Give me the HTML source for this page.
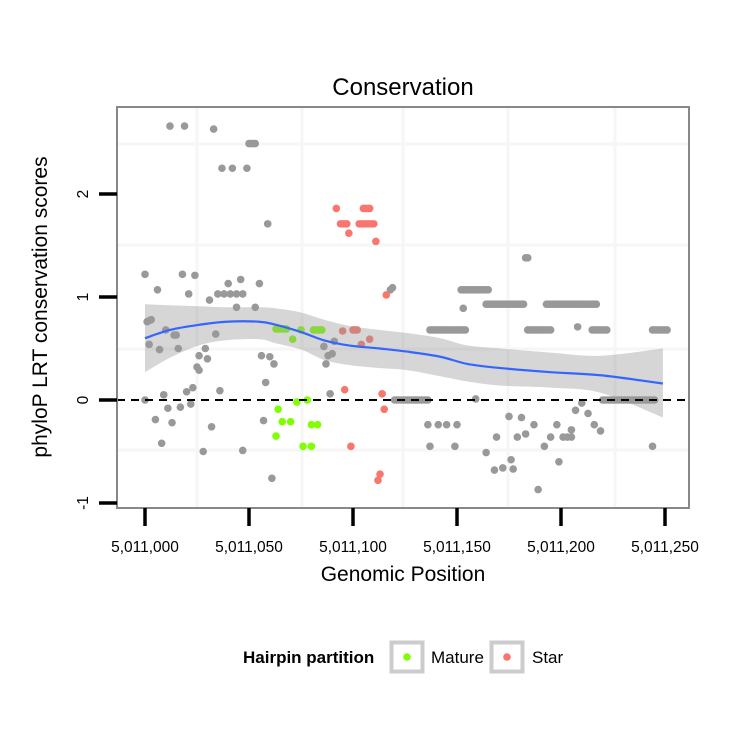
<!DOCTYPE html>
<html><head><meta charset="utf-8"><style>
body{margin:0;background:#fff;}
svg text{font-family:"Liberation Sans",sans-serif;}
</style></head><body>
<svg id="c" width="750" height="750" xmlns="http://www.w3.org/2000/svg"></svg>
<script>
const BASE = 5011000;
const xTicks = [0,50,100,150,200,250];
const xTickLabels = ["5,011,000","5,011,050","5,011,100","5,011,150","5,011,200","5,011,250"];
const yTicks = [2,1,0,-1];
const yTickLabels = ["2","1","0","-1"];
const grayX = [12,19,33,50,51,52,53,37,42,49,59,0,18,24,6,21,40,46,55,35,38,41,44,47,31,44,53,1,2,3,10,14,15,2,34,7,16,29,26,30,25,26,56,60,62,58,86,91,88,90,87,89,20,23,36,9,0,11,17,22,5,13,32,57,8,28,47,61,118,119,
120,121,122,123,124,125,126,127,128,129,130,131,132,133,134,135,136,
183,184,152,153,154,155,156,157,158,159,160,161,162,163,164,165,153,
164,165,166,167,168,169,170,171,172,173,174,175,176,177,178,179,180,181,182,
193,194,195,196,197,198,199,200,201,202,203,204,205,206,207,208,209,210,211,212,213,214,215,216,217,
137,138,139,140,141,142,143,144,145,146,147,148,149,150,151,152,153,154,
184,185,186,187,188,189,190,191,192,193,194,195,208,215,216,217,218,219,220,221,222,244,245,246,247,248,249,250,251,159,
220,221,222,223,224,225,226,227,228,229,230,231,232,233,234,235,236,237,238,239,240,241,242,243,244,245,
210,207,213,175,181,136,141,145,150,187,198,216,219,205,169,179,183,195,201,203,205,137,149,164,192,244,176,199,168,172,177,189];
const grayY = [2.66,2.66,2.63,2.49,2.49,2.49,2.49,2.25,2.25,2.25,1.71,1.22,1.22,1.21,1.07,1.03,1.13,1.17,1.13,1.03,1.03,1.03,1.03,1.03,0.97,0.90,0.90,0.76,0.77,0.78,0.68,0.63,0.63,0.54,0.64,0.49,0.50,0.50,0.43,0.40,0.32,0.29,0.43,0.42,0.35,0.17,0.52,0.57,0.43,0.45,0.35,0.06,0.08,0.12,0.09,0.05,0.00,-0.08,-0.07,-0.04,-0.19,-0.22,-0.26,-0.20,-0.42,-0.50,-0.49,-0.76,1.07,1.09,
0,0,0,0,0,0,0,0,0,0,0,0,0,0,0,0,0,
1.38,1.38,1.07,1.07,1.07,1.07,1.07,1.07,1.07,1.07,1.07,1.07,1.07,1.07,1.07,1.07,0.89,
0.93,0.93,0.93,0.93,0.93,0.93,0.93,0.93,0.93,0.93,0.93,0.93,0.93,0.93,0.93,0.93,0.93,0.93,0.93,
0.93,0.93,0.93,0.93,0.93,0.93,0.93,0.93,0.93,0.93,0.93,0.93,0.93,0.93,0.93,0.93,0.93,0.93,0.93,0.93,0.93,0.93,0.93,0.93,0.93,
0.68,0.68,0.68,0.68,0.68,0.68,0.68,0.68,0.68,0.68,0.68,0.68,0.68,0.68,0.68,0.68,0.68,0.68,
0.68,0.68,0.68,0.68,0.68,0.68,0.68,0.68,0.68,0.68,0.68,0.68,0.71,0.68,0.68,0.68,0.68,0.68,0.68,0.68,0.68,0.68,0.68,0.68,0.68,0.68,0.68,0.68,0.68,0.01,
0,0,0,0,0,0,0,0,0,0,0,0,0,0,0,0,0,0,0,0,0,0,0,0,0,0,
-0.03,-0.10,-0.13,-0.16,-0.17,-0.24,-0.24,-0.24,-0.24,-0.24,-0.24,-0.24,-0.30,-0.29,-0.36,-0.36,-0.33,-0.36,-0.36,-0.36,-0.36,-0.45,-0.45,-0.51,-0.45,-0.45,-0.58,-0.60,-0.68,-0.66,-0.67,-0.87];
const matureX = [63,64,65,66,67,68,75,81,82,83,84,85,71,64,73,78,66,70,80,83,63,76,80];
const matureY = [0.69,0.69,0.69,0.69,0.69,0.69,0.68,0.68,0.68,0.68,0.68,0.68,0.59,-0.09,-0.02,0.0,-0.21,-0.21,-0.24,-0.24,-0.35,-0.45,-0.45];
const starX = [92,105,106,107,108,94,95,96,97,103,104,105,106,107,108,109,110,98,111,116,95,100,101,102,108,104,96,114,115,99,113,112];
const starY = [1.86,1.86,1.86,1.86,1.86,1.71,1.71,1.71,1.71,1.71,1.71,1.71,1.71,1.71,1.71,1.71,1.71,1.62,1.54,1.02,0.67,0.68,0.68,0.68,0.59,0.54,0.10,0.06,-0.09,-0.45,-0.72,-0.78];
const smoothX = [0,12,26,39,55,63,75,86,98,113,126,142,155,171,195,219,249];
const smoothY = [0.60,0.68,0.73,0.76,0.76,0.73,0.66,0.58,0.53,0.50,0.47,0.42,0.35,0.31,0.27,0.24,0.16];
const smoothHi = [0.93,0.92,0.91,0.90,0.90,0.89,0.85,0.78,0.72,0.68,0.65,0.60,0.53,0.50,0.46,0.43,0.50];
const smoothLo = [0.27,0.41,0.53,0.58,0.59,0.55,0.49,0.39,0.34,0.31,0.29,0.23,0.18,0.14,0.12,0.07,-0.17];

const svg = document.getElementById('c');
const NS = 'http://www.w3.org/2000/svg';
const L=117,R=689,T=107,B=508;
const xs = v => 145 + v*2.08;
const ys = v => 400 - v*103;
function mk(tag, attrs, parent){const e=document.createElementNS(NS,tag);for(const k in attrs)e.setAttribute(k,attrs[k]);(parent||svg).appendChild(e);return e;}
function curve(P){let s='M'+P[0][0]+','+P[0][1];for(let i=0;i<P.length-1;i++){const p0=P[i-1]||P[i],p1=P[i],p2=P[i+1],p3=P[i+2]||p2;
s+='C'+(p1[0]+(p2[0]-p0[0])/6)+','+(p1[1]+(p2[1]-p0[1])/6)+' '+(p2[0]-(p3[0]-p1[0])/6)+','+(p2[1]-(p3[1]-p1[1])/6)+' '+p2[0]+','+p2[1];}return s;}

const bg = mk('rect',{x:L,y:T,width:R-L,height:B-T,fill:'#fff'});


[197,302,403,508,615].forEach(x=>{const g=mk('line',{x1:x,x2:x,y1:T,y2:B,stroke:'#f6f6f6','stroke-width':3});

});
[144,245,349,450].forEach(y=>{const g=mk('line',{x1:L,x2:R,y1:y,y2:y,stroke:'#f6f6f6','stroke-width':3});

});

function pts(X,Y,col,name){X.forEach((x,i)=>{const c=mk('circle',{cx:xs(x),cy:ys(Y[i]),r:3.8,fill:col});

});}
pts(grayX,grayY,'#999999','gray-point');
pts(matureX,matureY,'#7FFF00','mature-point');
pts(starX,starY,'#F8766D','star-point');

const hiP = smoothX.map((x,i)=>[xs(x),ys(smoothHi[i])]);
const loP = smoothX.map((x,i)=>[xs(x),ys(smoothLo[i])]).reverse();
const rib = mk('path',{d:curve(hiP)+curve(loP).replace('M','L')+'Z',fill:'#999',opacity:0.4});


const ln = mk('path',{d:curve(smoothX.map((x,i)=>[xs(x),ys(smoothY[i])])),fill:'none',stroke:'#3366FF','stroke-width':2.2});



const zl = mk('line',{x1:L,x2:R,y1:ys(0),y2:ys(0),stroke:'#000','stroke-width':2,'stroke-dasharray':'8,6'});



const border = mk('rect',{x:L,y:T,width:R-L,height:B-T,fill:'none',stroke:'#888','stroke-width':2});



xTicks.forEach((v,i)=>{const t=mk('line',{x1:xs(v),x2:xs(v),y1:B,y2:526,stroke:'#000','stroke-width':3.5});


const tx=mk('text',{x:xs(v),y:552,'text-anchor':'middle','font-size':15.5,fill:'#000'});tx.textContent=xTickLabels[i];

});
yTicks.forEach((v,i)=>{const t=mk('line',{x1:99,x2:L,y1:ys(v),y2:ys(v),stroke:'#000','stroke-width':3.5});


const y=ys(v);const tx=mk('text',{x:88,y:y,'text-anchor':'middle','font-size':15.5,fill:'#000',transform:`rotate(-90 88 ${y})`});tx.textContent=yTickLabels[i];

});
</script>
<svg width="750" height="750" style="position:absolute;left:0;top:0" xmlns="http://www.w3.org/2000/svg">
<text x="403" y="95" text-anchor="middle" font-size="24" font-family="Liberation Sans, sans-serif">Conservation</text>
<text x="403" y="581" text-anchor="middle" font-size="21" font-family="Liberation Sans, sans-serif">Genomic Position</text>
<text x="47" y="307" text-anchor="middle" font-size="21" font-family="Liberation Sans, sans-serif" transform="rotate(-90 47 307)">phyloP LRT conservation scores</text>
<g>
<text x="243" y="663" font-size="17" font-weight="bold" font-family="Liberation Sans, sans-serif">Hairpin partition</text>
<rect x="391.5" y="642.5" width="31" height="29" fill="#fff" stroke="#cccccc" stroke-width="4"/>
<circle cx="407" cy="657" r="3.8" fill="#7FFF00"/>
<text x="431" y="663" font-size="17" font-family="Liberation Sans, sans-serif">Mature</text>
<rect x="491.5" y="642.5" width="31" height="29" fill="#fff" stroke="#cccccc" stroke-width="4"/>
<circle cx="507" cy="657" r="3.8" fill="#F8766D"/>
<text x="532" y="663" font-size="17" font-family="Liberation Sans, sans-serif">Star</text>
</g>
</svg>
</body></html>
